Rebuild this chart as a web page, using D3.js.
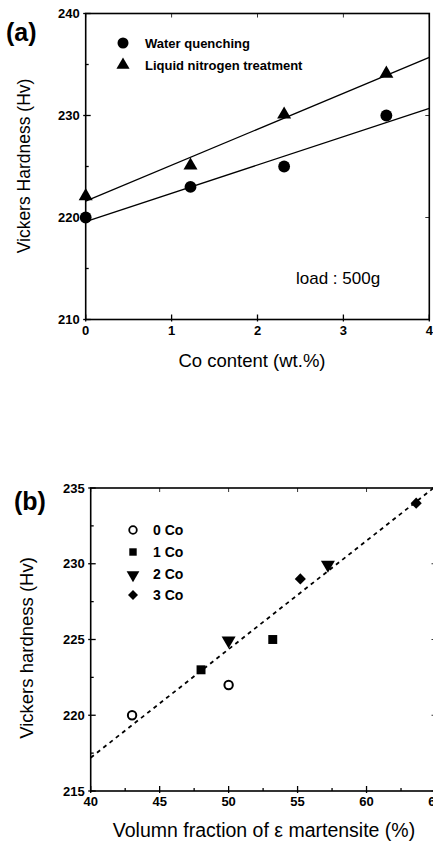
<!DOCTYPE html>
<html><head><meta charset="utf-8">
<script src="https://cdn.jsdelivr.net/npm/d3@7"></script>
<style>
html,body{margin:0;padding:0;background:#fff;}
svg{display:block;font-family:"Liberation Sans",Arial,sans-serif;}
</style></head>
<body>
<svg id="c" width="433" height="844"></svg>
<script>
// ---------- Panel (a) data ----------
const coContent = [0, 1.22, 2.31, 3.5];
const waterQuenching = [220, 223, 225, 230];
const liquidNitrogen = [222, 225, 230, 234];
const wqFitX = [0, 4], wqFitY = [219.6, 230.7];
const lnFitX = [0, 4], lnFitY = [221.6, 235.7];
const aXTicks = [0, 1, 2, 3, 4];
const aYTicks = [210, 220, 230, 240];
const aYMinor = [215, 225, 235];
const aLegend = ["Water quenching", "Liquid nitrogen treatment"];

// ---------- Panel (b) data ----------
const co0X = [43, 50], co0Y = [220, 222];
const co1X = [48, 53.2], co1Y = [223, 225];
const co2X = [50, 57.2], co2Y = [225, 230];
const co3X = [55.2, 63.6], co3Y = [229, 234];
const bFitX = [40, 65], bFitY = [217.2, 235.1];
const bXTicks = [40, 45, 50, 55, 60, 65];
const bXMinor = [42.5, 47.5, 52.5, 57.5, 62.5];
const bYTicks = [215, 220, 225, 230, 235];
const bYMinor = [217.5, 222.5, 227.5, 232.5];
const bLegend = ["0 Co", "1 Co", "2 Co", "3 Co"];

const svg = d3.select("#c");

function frame(g, x, y, xt, xm, yt, ym) {
  const [x0, x1] = x.range(), [y0, y1] = y.range();
  g.append("rect").attr("x", x0).attr("y", y1).attr("width", x1 - x0).attr("height", y0 - y1)
    .attr("fill", "none").attr("stroke", "#000").attr("stroke-width", 1.6);
  const t = g.append("g").attr("stroke", "#000").attr("stroke-width", 1.3);
  yt.forEach(v => {
    t.append("line").attr("x1", x0 - 2.5).attr("x2", x0 + 5).attr("y1", y(v)).attr("y2", y(v));
    t.append("line").attr("x1", x1 - 4).attr("x2", x1).attr("y1", y(v)).attr("y2", y(v)).attr("stroke-width", 0.8);
  });
  ym.forEach(v => {
    t.append("line").attr("x1", x0).attr("x2", x0 + 3).attr("y1", y(v)).attr("y2", y(v));
  });
  xt.forEach(v => {
    t.append("line").attr("x1", x(v)).attr("x2", x(v)).attr("y1", y0 + 2).attr("y2", y0 - 5);
    t.append("line").attr("x1", x(v)).attr("x2", x(v)).attr("y1", y1).attr("y2", y1 + 4).attr("stroke-width", 0.8);
  });
  xm.forEach(v => {
    t.append("line").attr("x1", x(v)).attr("x2", x(v)).attr("y1", y0).attr("y2", y0 - 3);
  });
  g.append("g").selectAll("text").data(yt).join("text")
    .attr("x", x0 - 6).attr("y", d => y(d)).attr("dy", "0.35em")
    .attr("text-anchor", "end").attr("font-size", 13).attr("font-weight", "bold").text(d => d);
  g.append("g").selectAll("text").data(xt).join("text")
    .attr("x", d => x(d)).attr("y", y0 + 15).attr("text-anchor", "middle")
    .attr("font-size", 13).attr("font-weight", "bold").text(d => d);
}

// ---------- Panel (a) ----------
{
  const x = d3.scaleLinear().domain([0, 4]).range([85.7, 429.3]);
  const y = d3.scaleLinear().domain([210, 240]).range([319.5, 13.5]);
  const g = svg.append("g");
  const line = d3.line().x(d => x(d[0])).y(d => y(d[1]));
  g.append("path").datum(d3.zip(wqFitX, wqFitY)).attr("d", line).attr("fill", "none").attr("stroke", "#000").attr("stroke-width", 1.3);
  g.append("path").datum(d3.zip(lnFitX, lnFitY)).attr("d", line).attr("fill", "none").attr("stroke", "#000").attr("stroke-width", 1.3);
  frame(g, x, y, aXTicks, [], aYTicks, aYMinor);
  const circ = d3.symbol().type(d3.symbolCircle).size(110);
  const tri = d3.symbol().type(d3.symbolTriangle).size(85);
  g.append("g").selectAll("path").data(d3.zip(coContent, waterQuenching)).join("path")
    .attr("d", circ).attr("transform", d => `translate(${x(d[0])},${y(d[1])})`).attr("fill", "#000");
  g.append("g").selectAll("path").data(d3.zip(coContent, liquidNitrogen)).join("path")
    .attr("d", tri).attr("transform", d => `translate(${x(d[0])},${y(d[1]) - 1})`).attr("fill", "#000");
  // legend
  g.append("path").attr("d", d3.symbol().type(d3.symbolCircle).size(95)).attr("transform", "translate(123,43)");
  g.append("path").attr("d", d3.symbol().type(d3.symbolTriangle).size(75)).attr("transform", "translate(123,65)");
  g.selectAll("text.lg").data(aLegend).join("text").attr("class", "lg")
    .attr("x", 145).attr("y", (d, i) => 43 + i * 22).attr("dy", "0.35em")
    .attr("font-size", 13).attr("font-weight", "bold").text(d => d);
  g.append("text").attr("x", 296).attr("y", 284).attr("font-size", 17).text("load : 500g");
  g.append("text").attr("x", 252).attr("y", 367).attr("text-anchor", "middle").attr("font-size", 18.5).text("Co content (wt.%)");
  g.append("text").attr("transform", "translate(30,166) rotate(-90)").attr("text-anchor", "middle").attr("font-size", 17.5).text("Vickers Hardness (Hv)");
  g.append("text").attr("x", 6).attr("y", 41).attr("font-size", 25).attr("font-weight", "bold").text("(a)");
}

// ---------- Panel (b) ----------
{
  const x = d3.scaleLinear().domain([40, 65]).range([90.7, 435.5]);
  const y = d3.scaleLinear().domain([215, 235]).range([791, 488]);
  const g = svg.append("g");
  const line = d3.line().x(d => x(d[0])).y(d => y(d[1]));
  g.append("path").datum(d3.zip(bFitX, bFitY)).attr("d", line).attr("fill", "none").attr("stroke", "#000")
    .attr("stroke-width", 1.8).attr("stroke-dasharray", "4,4");
  frame(g, x, y, bXTicks, bXMinor, bYTicks, bYMinor);
  const sq = d3.symbol().type(d3.symbolSquare).size(80);
  const tri = d3.symbol().type(d3.symbolTriangle).size(85);
  const dia = d3.symbol().type(d3.symbolSquare).size(62);
  g.append("g").selectAll("circle").data(d3.zip(co0X, co0Y)).join("circle")
    .attr("cx", d => x(d[0])).attr("cy", d => y(d[1])).attr("r", 4.2)
    .attr("fill", "#fff").attr("stroke", "#000").attr("stroke-width", 2);
  g.append("g").selectAll("path").data(d3.zip(co1X, co1Y)).join("path")
    .attr("d", sq).attr("transform", d => `translate(${x(d[0])},${y(d[1])})`);
  g.append("g").selectAll("path").data(d3.zip(co2X, co2Y)).join("path")
    .attr("d", tri).attr("transform", d => `translate(${x(d[0])},${y(d[1]) + 1}) rotate(180)`);
  g.append("g").selectAll("path").data(d3.zip(co3X, co3Y)).join("path")
    .attr("d", dia).attr("transform", d => `translate(${x(d[0])},${y(d[1])}) rotate(45)`);
  // legend
  const ly = [530, 552, 574, 595];
  g.append("circle").attr("cx", 133).attr("cy", ly[0]).attr("r", 3.8).attr("fill", "#fff").attr("stroke", "#000").attr("stroke-width", 1.8);
  g.append("path").attr("d", d3.symbol().type(d3.symbolSquare).size(55)).attr("transform", `translate(133,${ly[1]})`);
  g.append("path").attr("d", d3.symbol().type(d3.symbolTriangle).size(70)).attr("transform", `translate(133,${ly[2] + 1}) rotate(180)`);
  g.append("path").attr("d", d3.symbol().type(d3.symbolSquare).size(50)).attr("transform", `translate(133,${ly[3]}) rotate(45)`);
  g.selectAll("text.lg").data(bLegend).join("text").attr("class", "lg")
    .attr("x", 153).attr("y", (d, i) => ly[i]).attr("dy", "0.35em")
    .attr("font-size", 14).attr("font-weight", "bold").text(d => d);
  g.append("text").attr("x", 264).attr("y", 837).attr("text-anchor", "middle").attr("font-size", 19.5).text("Volumn fraction of ε martensite (%)");
  g.append("text").attr("transform", "translate(33,648) rotate(-90)").attr("text-anchor", "middle").attr("font-size", 18.5).text("Vickers hardness (Hv)");
  g.append("text").attr("x", 14).attr("y", 510).attr("font-size", 25).attr("font-weight", "bold").text("(b)");
}
</script>
</body></html>
